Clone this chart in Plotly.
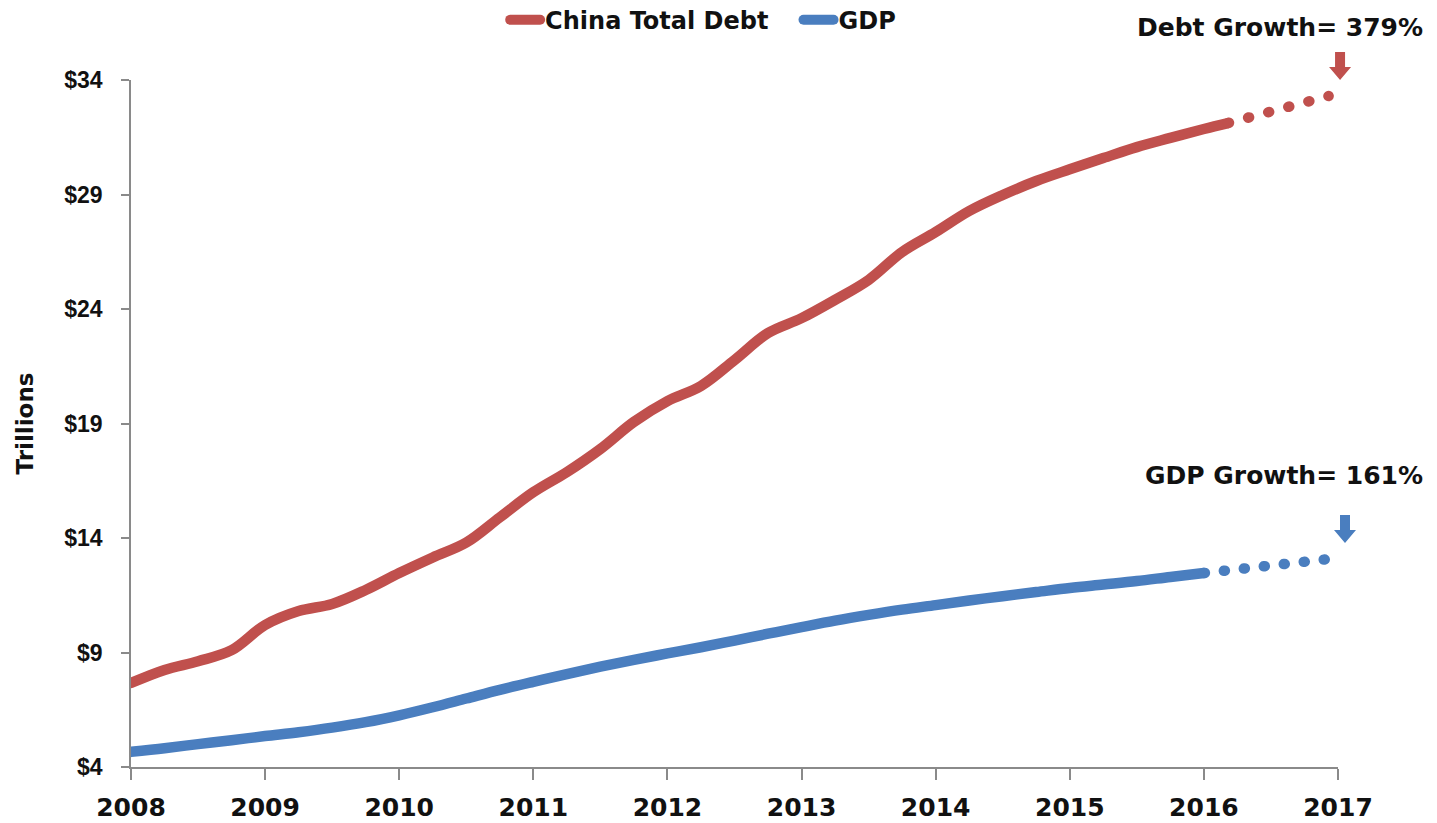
import plotly.graph_objects as go

# Quarterly observations, fractional years
quarters = [2008.0, 2008.25, 2008.5, 2008.75, 2009.0, 2009.25, 2009.5, 2009.75,
            2010.0, 2010.25, 2010.5, 2010.75, 2011.0, 2011.25, 2011.5, 2011.75,
            2012.0, 2012.25, 2012.5, 2012.75, 2013.0, 2013.25, 2013.5, 2013.75,
            2014.0, 2014.25, 2014.5, 2014.75, 2015.0, 2015.25, 2015.5, 2015.75,
            2016.0]

# China total debt, trillions USD
debt = [7.67, 8.24, 8.62, 9.10, 10.20, 10.81, 11.12, 11.73,
        12.47, 13.15, 13.80, 14.90, 16.00, 16.88, 17.89, 19.07,
        19.98, 20.64, 21.77, 22.95, 23.60, 24.40, 25.27, 26.49,
        27.36, 28.28, 28.98, 29.59, 30.10, 30.59, 31.07, 31.47,
        31.86]
debt_last_x, debt_last = 2016.18, 32.12

# GDP, trillions USD
gdp = [4.66, 4.82, 5.00, 5.17, 5.35, 5.52, 5.72, 5.96,
       6.26, 6.61, 6.99, 7.37, 7.72, 8.06, 8.38, 8.68,
       8.96, 9.23, 9.52, 9.82, 10.11, 10.39, 10.64, 10.87,
       11.07, 11.27, 11.46, 11.64, 11.82, 11.97, 12.12, 12.30,
       12.47]

# Projections to end of 2016
proj_x = 2016.93
debt_proj = 33.30
gdp_proj = 13.08

year_ticks = list(range(2008, 2018))
y_ticks = [4, 9, 14, 19, 24, 29, 34]

RED = "#C0504D"
BLUE = "#4A7EBF"
AXIS = "#8A8A8A"
BOLD = "DejaVu Sans"
ARIAL = "Liberation Sans"

fig = go.Figure()

fig.add_trace(go.Scatter(
    x=quarters + [debt_last_x], y=debt + [debt_last], name="China Total Debt   ",
    mode="lines", line=dict(color=RED, width=10.5, shape="spline", smoothing=1.0),
))
fig.add_trace(go.Scatter(
    x=quarters, y=gdp, name="GDP",
    mode="lines", line=dict(color=BLUE, width=10.5, shape="spline", smoothing=1.0),
))
fig.add_trace(go.Scatter(
    x=[debt_last_x, proj_x], y=[debt_last, debt_proj], mode="lines",
    line=dict(color=RED, width=10.5, dash="1px,19.8px"), showlegend=False,
))
fig.add_trace(go.Scatter(
    x=[quarters[-1], proj_x], y=[gdp[-1], gdp_proj], mode="lines",
    line=dict(color=BLUE, width=10.5, dash="1px,19.1px"), showlegend=False,
))

# Block arrows pointing at the projected end values
arrow_path = "M 0,0 L -11,13 L -5,13 L -5,28 L 5,28 L 5,13 L 11,13 Z"
for color, ax, ay in [(RED, 1.0017, 1.0), (BLUE, 1.0058, 0.326)]:
    fig.add_shape(type="path", path=arrow_path, xref="paper", yref="paper",
                  xsizemode="pixel", ysizemode="pixel", xanchor=ax, yanchor=ay,
                  fillcolor=color, line=dict(width=0))

fig.add_annotation(text="Debt Growth= 379%", xref="paper", yref="paper",
                   x=1.072, y=1.0757, xanchor="right", yanchor="middle",
                   showarrow=False, font=dict(family=BOLD, size=25, color="#111", weight="bold"))
fig.add_annotation(text="GDP Growth= 161%", xref="paper", yref="paper",
                   x=1.072, y=0.425, xanchor="right", yanchor="middle",
                   showarrow=False, font=dict(family=BOLD, size=25, color="#111", weight="bold"))

fig.update_layout(
    width=1437, height=823,
    margin=dict(l=131, r=99, t=80, b=56, autoexpand=False),
    paper_bgcolor="white", plot_bgcolor="white",
    showlegend=True,
    legend=dict(orientation="h", x=0.474, xanchor="center", y=1.087, yanchor="middle",
                font=dict(family=BOLD, size=24, color="#111", weight="bold"),
                itemwidth=30, tracegroupgap=0, bgcolor="rgba(0,0,0,0)"),
    xaxis=dict(range=[2008, 2017], tickmode="array", tickvals=year_ticks,
               ticktext=[str(y) for y in year_ticks], automargin=False,
               showgrid=False, zeroline=False, showline=True, linecolor=AXIS, linewidth=1.5,
               ticks="outside", ticklen=11, tickwidth=1.5, tickcolor=AXIS,
               ticklabelstandoff=6,
               tickfont=dict(family=BOLD, size=25, color="#111", weight="bold")),
    yaxis=dict(range=[4, 34], tickmode="array", tickvals=y_ticks,
               ticktext=[f"${v}" for v in y_ticks], automargin=False,
               showgrid=False, zeroline=False, showline=True, linecolor=AXIS, linewidth=1.5,
               ticks="outside", ticklen=8, tickwidth=1.5, tickcolor=AXIS,
               ticklabelstandoff=14,
               tickfont=dict(family=ARIAL, size=23, color="#111", weight="bold"),
               title=dict(text="Trillions", standoff=24,
                          font=dict(family=BOLD, size=23, color="#111", weight="bold"))),
)

round_caps = ("var s=document.createElement('style');"
              "s.textContent='.js-line{stroke-linecap:round!important;stroke-linejoin:round!important;}';"
              "document.head.appendChild(s);")
fig.write_html("out.html", post_script=round_caps)
